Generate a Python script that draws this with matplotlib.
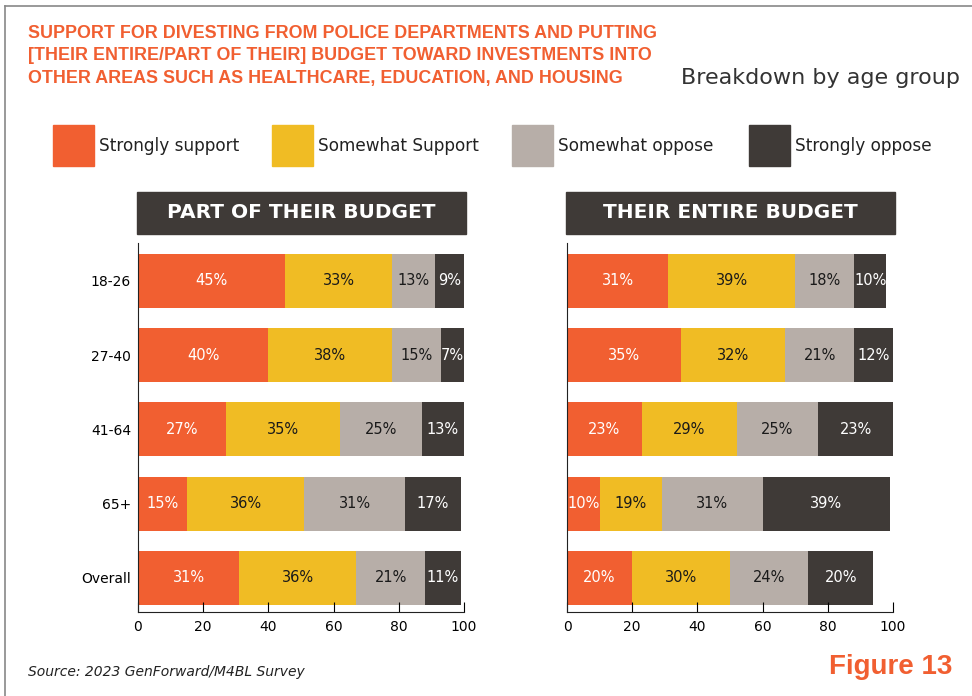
import matplotlib.pyplot as plt
import matplotlib.patches as mpatches
from matplotlib.lines import Line2D
import numpy as np

groups = ["18-26", "27-40", "41-64", "65+", "Overall"]
responses = ["Strongly support", "Somewhat Support", "Somewhat oppose", "Strongly oppose"]

part_strong_support = [45, 40, 27, 15, 31]
part_some_support = [33, 38, 35, 36, 36]
part_some_oppose = [13, 15, 25, 31, 21]
part_strong_oppose = [9, 7, 13, 17, 11]

entire_strong_support = [31, 35, 23, 10, 20]
entire_some_support = [39, 32, 29, 19, 30]
entire_some_oppose = [18, 21, 25, 31, 24]
entire_strong_oppose = [10, 12, 23, 39, 20]

colors = ["#F15F31", "#F0BC24", "#B7AEA8", "#3F3A37"]
text_colors = ["white", "#1a1a1a", "#1a1a1a", "white"]
orange = "#F15F31"
dark = "#3F3A37"

W, H = 972, 696
fig = plt.figure(figsize=(W / 100, H / 100), dpi=100)


def fx(px):
    return px / W


def fy(py):
    return 1 - py / H


# page frame
fig.add_artist(Line2D([fx(5), fx(972)], [fy(6), fy(6)], color="#888888", lw=1.2))
fig.add_artist(Line2D([fx(5), fx(5)], [fy(6), fy(696)], color="#888888", lw=1.2))

title_lines = [
    "SUPPORT FOR DIVESTING FROM POLICE DEPARTMENTS AND PUTTING",
    "[THEIR ENTIRE/PART OF THEIR] BUDGET TOWARD INVESTMENTS INTO",
    "OTHER AREAS SUCH AS HEALTHCARE, EDUCATION, AND HOUSING",
]
for i, line in enumerate(title_lines):
    fig.text(fx(28), fy(33 + i * 22.5), line, color=orange, fontsize=12.85,
             family="Liberation Sans", weight="bold", va="center", ha="left")

fig.text(fx(960), fy(78), "Breakdown by age group", color="#333333", fontsize=16,
         ha="right", va="center")

# legend
legend_x = [53, 272, 512, 749]
for x, label, c in zip(legend_x, responses, colors):
    fig.add_artist(mpatches.Rectangle((fx(x), fy(166)), fx(41), 41 / H, color=c,
                                      transform=fig.transFigure))
    fig.text(fx(x + 46), fy(146), label, fontsize=12.2, color="#222222",
             va="center", ha="left")


def draw_panel(left_px, header, values):
    # header box above the bars
    fig.add_artist(mpatches.Rectangle((fx(left_px - 1), fy(234)), fx(329), 42 / H,
                                      color=dark, transform=fig.transFigure))
    fig.text(fx(left_px + 163), fy(213), header, color="white", fontsize=14.5,
             weight="heavy", ha="center", va="center")

    ax = fig.add_axes([fx(left_px), fy(612), fx(326), (612 - 243) / H])
    y = np.arange(len(groups))
    left = np.zeros(len(groups))
    for vals, c, tc in zip(values, colors, text_colors):
        vals = np.array(vals, dtype=float)
        ax.barh(y, vals, left=left, height=0.73, color=c, edgecolor="none")
        for yi, l, v in zip(y, left, vals):
            ax.text(l + v / 2, yi, f"{int(v)}%", color=tc, fontsize=10.5,
                    ha="center", va="center")
        left += vals
    ax.set_xlim(0, 100)
    ax.set_ylim(4.46, -0.51)
    ax.set_xticks([0, 20, 40, 60, 80, 100])
    ax.set_yticks(y)
    ax.tick_params(axis="y", length=0, pad=5, labelsize=10)
    ax.tick_params(axis="x", length=7, direction="in", width=0.8, labelsize=10, pad=6)
    ax.spines[["top", "right"]].set_visible(False)
    ax.spines["left"].set_color("#222222")
    ax.spines["bottom"].set_color("#222222")
    return ax


ax1 = draw_panel(138, "PART OF THEIR BUDGET",
                 [part_strong_support, part_some_support, part_some_oppose, part_strong_oppose])
ax1.set_yticklabels(groups)

ax2 = draw_panel(567, "THEIR ENTIRE BUDGET",
                 [entire_strong_support, entire_some_support, entire_some_oppose, entire_strong_oppose])
ax2.set_yticklabels([])

fig.text(fx(28), fy(672), "Source: 2023 GenForward/M4BL Survey", fontsize=10,
         style="italic", color="#222222", va="center", ha="left")
fig.text(fx(952), fy(667), "Figure 13", fontsize=20, weight="bold", color=orange,
         family="Liberation Sans", ha="right", va="center")

fig.savefig("out.png", dpi=100)
